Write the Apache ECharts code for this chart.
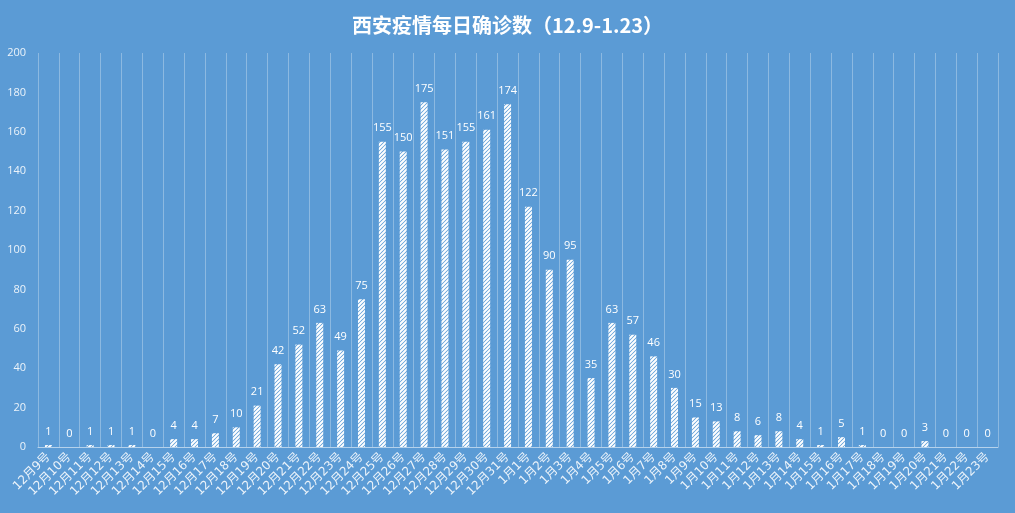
<!DOCTYPE html>
<html>
<head>
<meta charset="utf-8">
<script src="https://cdn.jsdelivr.net/npm/echarts@6/dist/echarts.min.js"></script>
<style>
html,body{margin:0;padding:0;background:#5b9bd5;}
#c{width:1015px;height:513px;}
</style>
</head>
<body>
<div id="c"></div>
<script>
var titleText = '西安疫情每日确诊数（12.9-1.23）';
var decDays = [9,10,11,12,13,14,15,16,17,18,19,20,21,22,23,24,25,26,27,28,29,30,31];
var janDays = [1,2,3,4,5,6,7,8,9,10,11,12,13,14,15,16,17,18,19,20,21,22,23];
var categories = decDays.map(function(d){return '12月' + d + '号';})
  .concat(janDays.map(function(d){return '1月' + d + '号';}));
var decValues = [1,0,1,1,1,0,4,4,7,10,21,42,52,63,49,75,155,150,175,151,155,161,174];
var janValues = [122,90,95,35,63,57,46,30,15,13,8,6,8,4,1,5,1,0,0,3,0,0,0];
var values = decValues.concat(janValues);
var yTicks = {min:0, max:200, interval:20};

// stripe pattern
var pc = document.createElement('canvas');
pc.width = 4; pc.height = 4;
var ctx = pc.getContext('2d');
ctx.fillStyle = '#5b9bd5';
ctx.fillRect(0,0,4,4);
ctx.strokeStyle = '#ffffff';
ctx.lineWidth = 2;
ctx.beginPath();
ctx.moveTo(0,4); ctx.lineTo(4,0);
ctx.moveTo(-1,1); ctx.lineTo(1,-1);
ctx.moveTo(3,5); ctx.lineTo(5,3);
ctx.stroke();

var font = '"Open Sans","Noto Sans CJK SC",sans-serif';
var chart = echarts.init(document.getElementById('c'));
chart.setOption({
  backgroundColor: '#5b9bd5',
  animation: false,
  title: {
    text: titleText,
    left: 'center',
    top: 10,
    textStyle: {color:'#ffffff', fontSize:20, fontWeight:'bold', fontFamily:'"Noto Sans CJK SC",sans-serif'}
  },
  grid: {left:38, right:17, top:53, bottom:66, containLabel:false},
  xAxis: {
    type: 'category',
    data: categories,
    boundaryGap: true,
    axisLine: {show:true, lineStyle:{color:'rgba(255,255,255,0.55)', width:1}},
    axisTick: {show:false},
    splitLine: {show:true, interval:0, lineStyle:{color:'rgba(255,255,255,0.3)', width:1}},
    axisLabel: {
      interval:0, rotate:45, color:'rgba(255,255,255,0.88)', fontSize:12,
      fontFamily:'"DejaVu Sans","Noto Sans CJK SC",sans-serif', margin:8
    }
  },
  yAxis: {
    type: 'value',
    min: yTicks.min, max: yTicks.max, interval: yTicks.interval,
    axisLine: {show:false},
    axisTick: {show:false},
    splitLine: {show:false},
    axisLabel: {color:'rgba(255,255,255,0.88)', fontSize:11, fontFamily:font, margin:12}
  },
  series: [{
    type: 'bar',
    data: values,
    barWidth: 7,
    itemStyle: {color: {image: pc, repeat:'repeat'}},
    label: {
      show: true, position: 'top', distance: 8,
      color: '#ffffff', fontSize: 11, fontFamily: font
    }
  }]
});
</script>
</body>
</html>
